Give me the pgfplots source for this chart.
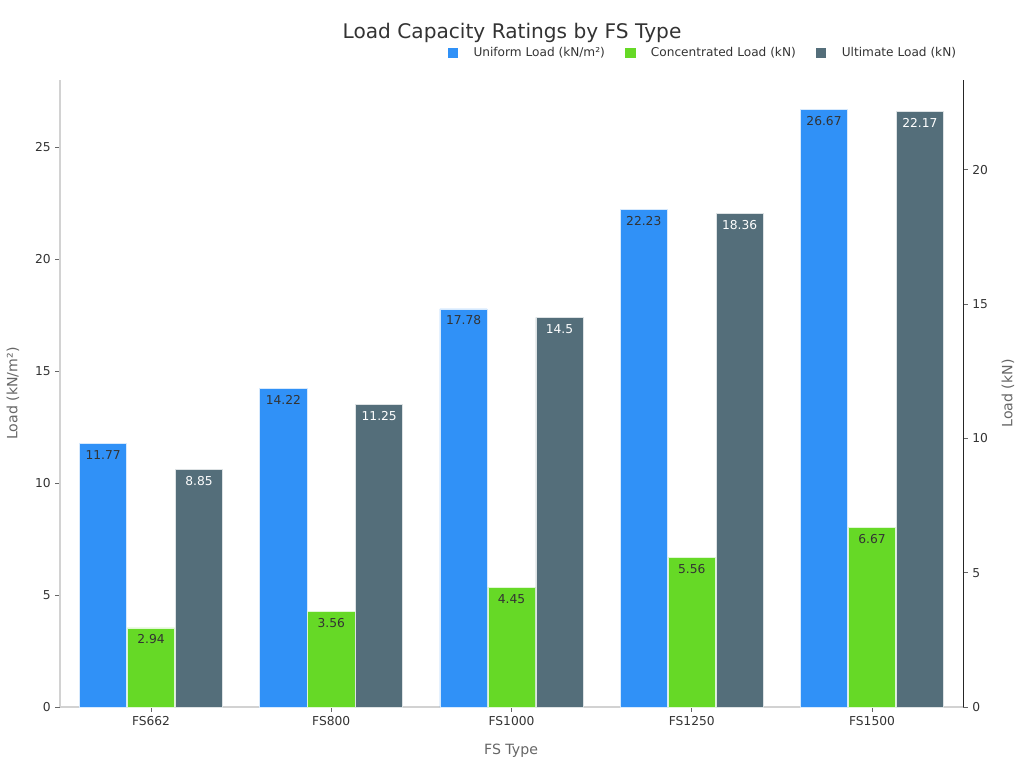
\documentclass[border=0pt]{standalone}
\usepackage{pgfplots}
\pgfplotsset{compat=1.18}
\usepackage{fontspec}
\setmainfont{DejaVu Sans}
\definecolor{cblue}{RGB}{48,145,247}
\definecolor{cgreen}{RGB}{102,217,38}
\definecolor{cgray}{RGB}{84,110,122}
\definecolor{txt}{RGB}{51,51,51}
\definecolor{lab}{RGB}{102,102,102}
\definecolor{spine}{RGB}{210,210,210}
\pgfplotsset{
  common/.style={
    at={(45pt,45.75pt)}, anchor=south west, scale only axis,
    width=677.25pt, height=470.25pt,
    xmin=-0.505, xmax=4.505, ymin=0,
    ybar, bar width=0.262, bar shift=0pt,
    /pgf/number format/assume math mode=true,
    tick align=outside, major tick length=3.5pt,
    tick style={color=lab, line width=0.6pt},
    ticklabel style={font=\fontsize{9.2}{11}\selectfont, color=txt},
    label style={font=\fontsize{10.6}{12}\selectfont, color=lab},
    point meta=explicit symbolic,
    nodes near coords,
    every node near coord/.append style={anchor=north, yshift=-1.5pt, font=\fontsize{9.2}{11}\selectfont, color=txt},
    clip=false,
  },
}
\begin{document}
\begin{tikzpicture}
\useasboundingbox (0,0) rectangle (768pt,576pt);
\node[font=\fontsize{15.1}{18}\selectfont, color=txt] at (384pt,551.5pt) {Load Capacity Ratings by FS Type};
\begin{axis}[common,
  ymax=28,
  axis y line*=left, axis x line*=bottom,
  axis line style={draw=spine, line width=0.8pt},
  xtick={0,1,2,3,4}, xticklabels={FS662,FS800,FS1000,FS1250,FS1500},
  ytick={0,5,10,15,20,25},
  ylabel={Load (kN/m²)}, xlabel={FS Type},
  ylabel style={at={(axis description cs:-0.052,0.5)}, anchor=center},
  xlabel style={at={(axis description cs:0.4995,-0.070)}, anchor=center},
]
\addplot[fill=cblue, draw=white!80!cblue, line width=0.5pt] coordinates {
  (-0.266,11.77) [11.77]
  (0.734,14.22) [14.22]
  (1.734,17.78) [17.78]
  (2.734,22.23) [22.23]
  (3.734,26.67) [26.67]
};
\end{axis}
\begin{axis}[common,
  ymax=23.333,
  axis y line*=right, axis x line=none,
  axis line style={draw=black!85, line width=0.7pt},
  ytick={0,5,10,15,20},
  ylabel={Load (kN)},
  ylabel style={at={(axis description cs:1.0498,0.5)}, anchor=center, rotate=0},
  legend columns=3,
  legend style={at={(1.0,1.043)}, anchor=east, draw=none, fill=none,
    font=\fontsize{9.1}{11}\selectfont, text=txt,
    /tikz/every odd column/.append style={column sep=9.5pt},
    /tikz/every even column/.append style={column sep=13pt}},
  legend image code/.code={\fill[#1, draw=none] (0pt,-4pt) rectangle (8pt,4pt);},
]
\addlegendimage{fill=cblue, draw=none}
\addlegendentry{Uniform Load (kN/m²)}
\addplot[fill=cgreen, draw=white!80!cgreen, line width=0.5pt] coordinates {
  (0,2.94) [2.94]
  (1,3.56) [3.56]
  (2,4.45) [4.45]
  (3,5.56) [5.56]
  (4,6.67) [6.67]
};
\addlegendentry{Concentrated Load (kN)}
\addplot[fill=cgray, draw=white!80!cgray, line width=0.5pt,
  every node near coord/.append style={color=white}] coordinates {
  (0.266,8.85) [8.85]
  (1.266,11.25) [11.25]
  (2.266,14.5) [14.5]
  (3.266,18.36) [18.36]
  (4.266,22.17) [22.17]
};
\addlegendentry{Ultimate Load (kN)}
\end{axis}
\end{tikzpicture}
\end{document}
